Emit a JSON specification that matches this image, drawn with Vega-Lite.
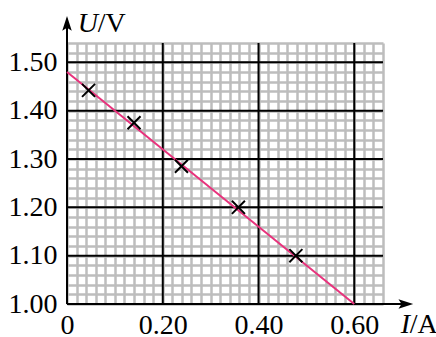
{
  "$schema": "https://vega.github.io/schema/vega-lite/v6.json",
  "autosize": "none",
  "width": 316,
  "height": 261,
  "padding": {"left": 67, "top": 43, "right": 53, "bottom": 33},
  "background": "white",
  "config": {"view": {"stroke": null}, "font": "Liberation Serif"},
  "resolve": {"axis": {"x": "independent", "y": "independent"}},
  "layer": [
    {
      "data": {"values": [{}]},
      "mark": {"type": "rule", "color": "black", "strokeWidth": 2, "clip": false},
      "encoding": {
        "x": {"datum": 0, "type": "quantitative",
          "scale": {"domain": [0, 0.66], "nice": false, "zero": false},
          "axis": {
            "title": null,
            "orient": "bottom",
            "values": [0,0.02,0.04,0.06,0.08,0.1,0.12,0.14,0.16,0.18,0.2,0.22,0.24,0.26,0.28,0.3,0.32,0.34,0.36,0.38,0.4,0.42,0.44,0.46,0.48,0.5,0.52,0.54,0.56,0.58,0.6,0.62,0.64,0.66],
            "grid": true,
            "gridColor": "#bdbdbd",
            "gridWidth": 2.5,
            "gridOpacity": 1,
            "domain": false,
            "ticks": false,
            "labelExpr": "abs(datum.value*5 - round(datum.value*5)) < 0.001 ? (datum.value == 0 ? '0' : format(datum.value, '.2f')) : ''",
            "labelFont": "Liberation Serif",
            "labelFontSize": 28,
            "labelColor": "black",
            "labelPadding": 7,
            "labelOverlap": false,
            "labelFlush": false,
            "labelBaseline": "top",
            "zindex": 0
          }
        },
        "y": {"datum": 1.0, "type": "quantitative",
          "scale": {"domain": [1.0, 1.54], "nice": false, "zero": false},
          "axis": {
            "title": null,
            "orient": "left",
            "values": [1.0,1.02,1.04,1.06,1.08,1.1,1.12,1.14,1.16,1.18,1.2,1.22,1.24,1.26,1.28,1.3,1.32,1.34,1.36,1.38,1.4,1.42,1.44,1.46,1.48,1.5,1.52,1.54],
            "grid": true,
            "gridColor": "#bdbdbd",
            "gridWidth": 2.5,
            "gridOpacity": 1,
            "domain": false,
            "ticks": false,
            "labelExpr": "abs(datum.value*10 - round(datum.value*10)) < 0.001 ? format(datum.value, '.2f') : ''",
            "labelFont": "Liberation Serif",
            "labelFontSize": 28,
            "labelColor": "black",
            "labelPadding": 10,
            "labelOverlap": false,
            "labelFlush": false,
            "zindex": 0
          }
        },
        "y2": {"datum": 1.59}
      }
    },
    {
      "data": {"values": [{}]},
      "mark": {"type": "rule", "color": "black", "strokeWidth": 2},
      "encoding": {"x": {"datum": 0.2, "type": "quantitative", "axis": null}}
    },
    {
      "data": {"values": [{}]},
      "mark": {"type": "rule", "color": "black", "strokeWidth": 2},
      "encoding": {"x": {"datum": 0.4, "type": "quantitative", "axis": null}}
    },
    {
      "data": {"values": [{}]},
      "mark": {"type": "rule", "color": "black", "strokeWidth": 2},
      "encoding": {"x": {"datum": 0.6, "type": "quantitative", "axis": null}}
    },
    {
      "data": {"values": [{}]},
      "mark": {"type": "rule", "color": "black", "strokeWidth": 2},
      "encoding": {"y": {"datum": 1.1, "type": "quantitative", "axis": null}}
    },
    {
      "data": {"values": [{}]},
      "mark": {"type": "rule", "color": "black", "strokeWidth": 2},
      "encoding": {"y": {"datum": 1.2, "type": "quantitative", "axis": null}}
    },
    {
      "data": {"values": [{}]},
      "mark": {"type": "rule", "color": "black", "strokeWidth": 2},
      "encoding": {"y": {"datum": 1.3, "type": "quantitative", "axis": null}}
    },
    {
      "data": {"values": [{}]},
      "mark": {"type": "rule", "color": "black", "strokeWidth": 2},
      "encoding": {"y": {"datum": 1.4, "type": "quantitative", "axis": null}}
    },
    {
      "data": {"values": [{}]},
      "mark": {"type": "rule", "color": "black", "strokeWidth": 2},
      "encoding": {"y": {"datum": 1.5, "type": "quantitative", "axis": null}}
    },
    {
      "data": {"values": [{}]},
      "mark": {"type": "rule", "color": "black", "strokeWidth": 2, "clip": false},
      "encoding": {
        "x": {"datum": 0, "type": "quantitative", "axis": null},
        "x2": {"datum": 0.715},
        "y": {"datum": 1.0, "type": "quantitative", "axis": null}
      }
    },
    {
      "data": {"values": [{}]},
      "mark": {"type": "rule", "color": "#e8327c", "strokeWidth": 2},
      "encoding": {
        "x": {"datum": 0, "type": "quantitative", "axis": null},
        "y": {"datum": 1.48, "type": "quantitative", "axis": null},
        "x2": {"datum": 0.6},
        "y2": {"datum": 1.0}
      }
    },
    {
      "data": {"values": [
        {"I": 0.045, "U": 1.442},
        {"I": 0.14, "U": 1.375},
        {"I": 0.239, "U": 1.285},
        {"I": 0.358, "U": 1.2},
        {"I": 0.478, "U": 1.1}
      ]},
      "mark": {"type": "point", "shape": "M-1,-1L1,1M1,-1L-1,1", "size": 170, "stroke": "black", "strokeWidth": 2, "filled": false, "opacity": 1},
      "encoding": {
        "x": {"field": "I", "type": "quantitative", "axis": null},
        "y": {"field": "U", "type": "quantitative", "axis": null}
      }
    },
    {
      "data": {"values": [{}]},
      "mark": {"type": "point", "shape": "M0,-1L0.55,0.7L0,0.35L-0.55,0.7Z", "size": 300, "filled": true, "color": "black", "opacity": 1, "clip": false},
      "encoding": {
        "x": {"datum": 0, "type": "quantitative", "axis": null},
        "y": {"datum": 1.578, "type": "quantitative", "axis": null}
      }
    },
    {
      "data": {"values": [{}]},
      "mark": {"type": "point", "shape": "M1,0L-0.7,0.55L-0.35,0L-0.7,-0.55Z", "size": 300, "filled": true, "color": "black", "opacity": 1, "clip": false},
      "encoding": {
        "x": {"datum": 0.705, "type": "quantitative", "axis": null},
        "y": {"datum": 1.0, "type": "quantitative", "axis": null}
      }
    },
    {
      "data": {"values": [{}]},
      "mark": {"type": "text", "text": "U", "font": "Liberation Serif", "fontStyle": "italic", "fontSize": 28, "align": "left", "baseline": "alphabetic", "color": "black", "clip": false},
      "encoding": {
        "x": {"datum": 0.0225, "type": "quantitative", "axis": null},
        "y": {"datum": 1.562, "type": "quantitative", "axis": null}
      }
    },
    {
      "data": {"values": [{}]},
      "mark": {"type": "text", "text": "/V", "font": "Liberation Serif", "fontSize": 28, "align": "left", "baseline": "alphabetic", "color": "black", "clip": false},
      "encoding": {
        "x": {"datum": 0.064, "type": "quantitative", "axis": null},
        "y": {"datum": 1.562, "type": "quantitative", "axis": null}
      }
    },
    {
      "data": {"values": [{}]},
      "mark": {"type": "text", "text": "I", "font": "Liberation Serif", "fontStyle": "italic", "fontSize": 28, "align": "left", "baseline": "alphabetic", "color": "black", "clip": false},
      "encoding": {
        "x": {"datum": 0.697, "type": "quantitative", "axis": null},
        "y": {"datum": 0.941, "type": "quantitative", "axis": null}
      }
    },
    {
      "data": {"values": [{}]},
      "mark": {"type": "text", "text": "/A", "font": "Liberation Serif", "fontSize": 28, "align": "left", "baseline": "alphabetic", "color": "black", "clip": false},
      "encoding": {
        "x": {"datum": 0.716, "type": "quantitative", "axis": null},
        "y": {"datum": 0.941, "type": "quantitative", "axis": null}
      }
    }
  ]
}
